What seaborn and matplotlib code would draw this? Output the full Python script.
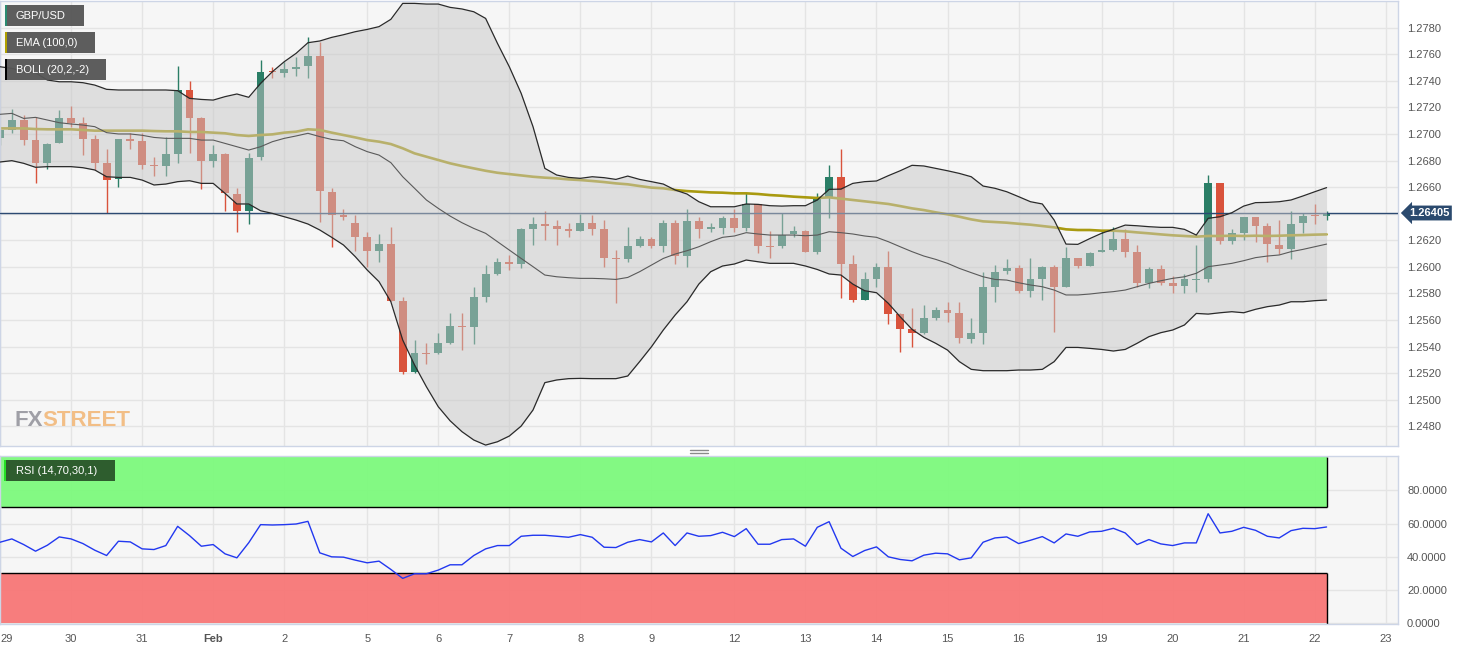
import numpy as np
import matplotlib
matplotlib.use("Agg")
import matplotlib.pyplot as plt
import matplotlib.transforms as mtrans
from matplotlib.patches import Rectangle
from matplotlib.lines import Line2D
import seaborn as sns

# ---------------- data (4-hour GBP/USD candles, Jan 29 -> Feb 22) ----------------
day_idx = [0, 6, 12, 18, 24, 31, 37, 43, 49, 55, 62, 68, 74, 80, 86, 93, 99, 105, 111, 117]
day_labels = ['29', '30', '31', 'Feb', '2', '5', '6', '7', '8', '9', '12', '13', '14',
              '15', '16', '19', '20', '21', '22', '23']

open_ = [1.26970, 1.27030, 1.27105, 1.26954, 1.26784, 1.26934, 1.27120, 1.27080, 1.26960, 1.26780,
         1.26658, 1.26965, 1.26947, 1.26770, 1.26756, 1.26849, 1.27330, 1.27120, 1.26800, 1.26850,
         1.26545, 1.26422, 1.26824, 1.27475, 1.27460, 1.27486, 1.27510, 1.27590, 1.26565, 1.26390,
         1.26327, 1.26222, 1.26121, 1.26171, 1.25745, 1.25210, 1.25352, 1.25348, 1.25424, 1.25555,
         1.25550, 1.25775, 1.25946, 1.26038, 1.26021, 1.26285, 1.26322, 1.26310, 1.26284, 1.26270,
         1.26327, 1.26282, 1.26063, 1.26055, 1.26156, 1.26206, 1.26156, 1.26327, 1.26084, 1.26345,
         1.26284, 1.26290, 1.26365, 1.26290, 1.26470, 1.26160, 1.26156, 1.26244, 1.26270, 1.26114,
         1.26528, 1.26678, 1.26018, 1.25750, 1.25905, 1.26000, 1.25644, 1.25529, 1.25500, 1.25612,
         1.25678, 1.25649, 1.25459, 1.25504, 1.25845, 1.25970, 1.25988, 1.25820, 1.25905, 1.25996,
         1.25850, 1.26063, 1.26008, 1.26110, 1.26126, 1.26206, 1.26114, 1.25880, 1.25980, 1.25875,
         1.25855, 1.25900, 1.25905, 1.26628, 1.26196, 1.26257, 1.26372, 1.26307, 1.26162, 1.26131,
         1.26327, 1.26388, 1.26380]

high = [1.27050, 1.27190, 1.27140, 1.27130, 1.26930, 1.27180, 1.27210, 1.27125, 1.26990, 1.26884,
        1.26960, 1.27005, 1.27005, 1.26830, 1.26974, 1.27510, 1.27400, 1.27130, 1.26914, 1.26860,
        1.26590, 1.26860, 1.27560, 1.27506, 1.27540, 1.27577, 1.27727, 1.27695, 1.26590, 1.26432,
        1.26390, 1.26264, 1.26244, 1.26297, 1.25770, 1.25449, 1.25424, 1.25500, 1.25654, 1.25650,
        1.25845, 1.26013, 1.26063, 1.26089, 1.26290, 1.26377, 1.26422, 1.26352, 1.26332, 1.26395,
        1.26390, 1.26352, 1.26126, 1.26297, 1.26230, 1.26226, 1.26352, 1.26352, 1.26432, 1.26377,
        1.26332, 1.26382, 1.26432, 1.26553, 1.26475, 1.26272, 1.26407, 1.26310, 1.26280, 1.26558,
        1.26766, 1.26884, 1.26086, 1.25963, 1.26026, 1.26121, 1.25650, 1.25687, 1.25712, 1.25695,
        1.25737, 1.25737, 1.25612, 1.25963, 1.26013, 1.26056, 1.26013, 1.26070, 1.26006, 1.26013,
        1.26151, 1.26070, 1.26114, 1.26277, 1.26302, 1.26282, 1.26164, 1.26000, 1.26013, 1.25930,
        1.25946, 1.26164, 1.26690, 1.26628, 1.26282, 1.26377, 1.26377, 1.26332, 1.26352, 1.26422,
        1.26407, 1.26473, 1.26422]

low = [1.26920, 1.27005, 1.26917, 1.26628, 1.26733, 1.26930, 1.27055, 1.26840, 1.26730, 1.26402,
       1.26600, 1.26890, 1.26733, 1.26680, 1.26680, 1.26784, 1.26854, 1.26583, 1.26750, 1.26422,
       1.26260, 1.26320, 1.26804, 1.27420, 1.27426, 1.27436, 1.27419, 1.26340, 1.26146, 1.26352,
       1.26121, 1.25996, 1.26038, 1.25740, 1.25190, 1.25198, 1.25268, 1.25343, 1.25420, 1.25373,
       1.25419, 1.25737, 1.25940, 1.25976, 1.25988, 1.26164, 1.26200, 1.26166, 1.26227, 1.26267,
       1.26240, 1.26000, 1.25725, 1.26038, 1.26146, 1.26140, 1.26114, 1.26020, 1.25996, 1.26214,
       1.26260, 1.26250, 1.26264, 1.26272, 1.26106, 1.26063, 1.26140, 1.26227, 1.26110, 1.26096,
       1.26365, 1.25762, 1.25732, 1.25750, 1.25850, 1.25569, 1.25360, 1.25398, 1.25496, 1.25600,
       1.25587, 1.25429, 1.25424, 1.25419, 1.25737, 1.25946, 1.25800, 1.25775, 1.25750, 1.25511,
       1.25845, 1.25988, 1.26006, 1.26110, 1.26120, 1.26076, 1.25845, 1.25838, 1.25863, 1.25805,
       1.25800, 1.25813, 1.25888, 1.26171, 1.26171, 1.26200, 1.26184, 1.26038, 1.26096, 1.26056,
       1.26252, 1.26322, 1.26352]

close = [1.27030, 1.27105, 1.26954, 1.26784, 1.26924, 1.27120, 1.27080, 1.26960, 1.26784, 1.26653,
         1.26960, 1.26950, 1.26770, 1.26760, 1.26846, 1.27330, 1.27120, 1.26800, 1.26850, 1.26553,
         1.26422, 1.26820, 1.27470, 1.27468, 1.27486, 1.27506, 1.27590, 1.26570, 1.26390, 1.26372,
         1.26222, 1.26121, 1.26171, 1.25745, 1.25210, 1.25348, 1.25343, 1.25424, 1.25554, 1.25550,
         1.25770, 1.25946, 1.26038, 1.26020, 1.26282, 1.26320, 1.26307, 1.26284, 1.26270, 1.26327,
         1.26282, 1.26063, 1.26055, 1.26156, 1.26206, 1.26156, 1.26327, 1.26084, 1.26345, 1.26284,
         1.26300, 1.26365, 1.26290, 1.26470, 1.26156, 1.26150, 1.26240, 1.26267, 1.26114, 1.26528,
         1.26678, 1.26018, 1.25750, 1.25905, 1.26000, 1.25644, 1.25529, 1.25500, 1.25612, 1.25675,
         1.25649, 1.25461, 1.25504, 1.25845, 1.25963, 1.25988, 1.25820, 1.25905, 1.25996, 1.25850,
         1.26063, 1.26008, 1.26106, 1.26126, 1.26206, 1.26114, 1.25880, 1.25980, 1.25880, 1.25855,
         1.25905, 1.25910, 1.26628, 1.26196, 1.26252, 1.26372, 1.26307, 1.26169, 1.26131, 1.26322,
         1.26385, 1.26383, 1.26405]

bb_upper = [1.27506, 1.27494, 1.27469, 1.27461, 1.27406, 1.27393, 1.27393, 1.27386, 1.27368, 1.27336,
            1.27331, 1.27331, 1.27331, 1.27331, 1.27331, 1.27326, 1.27268, 1.27260, 1.27255, 1.27281,
            1.27301, 1.27276, 1.27381, 1.27469, 1.27544, 1.27607, 1.27687, 1.27700, 1.27727, 1.27747,
            1.27770, 1.27787, 1.27808, 1.27863, 1.27983, 1.27983, 1.27978, 1.27978, 1.27953, 1.27941,
            1.27920, 1.27870, 1.27682, 1.27506, 1.27306, 1.27055, 1.26741, 1.26691, 1.26673, 1.26666,
            1.26678, 1.26671, 1.26658, 1.26683, 1.26658, 1.26641, 1.26623, 1.26578, 1.26548, 1.26490,
            1.26452, 1.26452, 1.26452, 1.26473, 1.26470, 1.26460, 1.26457, 1.26460, 1.26460, 1.26503,
            1.26583, 1.26585, 1.26628, 1.26641, 1.26646, 1.26686, 1.26723, 1.26764, 1.26759, 1.26741,
            1.26723, 1.26703, 1.26678, 1.26608, 1.26591, 1.26565, 1.26528, 1.26490, 1.26473, 1.26352,
            1.26171, 1.26169, 1.26212, 1.26252, 1.26282, 1.26314, 1.26309, 1.26302, 1.26297, 1.26297,
            1.26282, 1.26239, 1.26365, 1.26377, 1.26407, 1.26457, 1.26483, 1.26485, 1.26490, 1.26503,
            1.26533, 1.26565, 1.26596]

bb_lower = [1.26789, 1.26799, 1.26779, 1.26749, 1.26754, 1.26754, 1.26754, 1.26746, 1.26729, 1.26678,
            1.26673, 1.26673, 1.26653, 1.26616, 1.26623, 1.26641, 1.26648, 1.26628, 1.26628, 1.26553,
            1.26473, 1.26473, 1.26422, 1.26402, 1.26377, 1.26352, 1.26322, 1.26277, 1.26222, 1.26164,
            1.26076, 1.25976, 1.25888, 1.25737, 1.25449, 1.25261, 1.25097, 1.24947, 1.24841, 1.24759,
            1.24696, 1.24658, 1.24683, 1.24726, 1.24801, 1.24922, 1.25128, 1.25148, 1.25158, 1.25160,
            1.25158, 1.25158, 1.25158, 1.25178, 1.25286, 1.25398, 1.25524, 1.25637, 1.25737, 1.25870,
            1.25963, 1.26006, 1.26021, 1.26051, 1.26038, 1.26026, 1.26026, 1.26026, 1.26006, 1.25980,
            1.25946, 1.25938, 1.25870, 1.25820, 1.25805, 1.25725, 1.25624, 1.25529, 1.25469, 1.25424,
            1.25373, 1.25286, 1.25228, 1.25218, 1.25218, 1.25218, 1.25223, 1.25223, 1.25228, 1.25286,
            1.25393, 1.25393, 1.25386, 1.25378, 1.25366, 1.25378, 1.25424, 1.25474, 1.25504, 1.25524,
            1.25562, 1.25649, 1.25644, 1.25654, 1.25662, 1.25654, 1.25680, 1.25700, 1.25712, 1.25737,
            1.25737, 1.25745, 1.25750]

bb_mid = [1.27148, 1.27155, 1.27117, 1.27125, 1.27105, 1.27085, 1.27075, 1.27067, 1.27055, 1.27010,
          1.27000, 1.27000, 1.26990, 1.26974, 1.26967, 1.26967, 1.26967, 1.26954, 1.26954, 1.26929,
          1.26904, 1.26879, 1.26904, 1.26942, 1.26967, 1.26985, 1.27005, 1.26980, 1.26959, 1.26949,
          1.26904, 1.26867, 1.26841, 1.26784, 1.26678, 1.26591, 1.26503, 1.26440, 1.26382, 1.26332,
          1.26289, 1.26252, 1.26189, 1.26126, 1.26063, 1.26001, 1.25938, 1.25925, 1.25918, 1.25913,
          1.25913, 1.25910, 1.25905, 1.25920, 1.25963, 1.26013, 1.26063, 1.26096, 1.26121, 1.26151,
          1.26189, 1.26222, 1.26232, 1.26257, 1.26247, 1.26239, 1.26239, 1.26239, 1.26234, 1.26239,
          1.26264, 1.26257, 1.26247, 1.26232, 1.26222, 1.26189, 1.26151, 1.26114, 1.26081, 1.26056,
          1.26026, 1.25988, 1.25956, 1.25925, 1.25905, 1.25900, 1.25880, 1.25863, 1.25850, 1.25825,
          1.25788, 1.25788, 1.25795, 1.25805, 1.25813, 1.25825, 1.25850, 1.25875, 1.25895, 1.25913,
          1.25925, 1.25951, 1.26001, 1.26013, 1.26026, 1.26046, 1.26069, 1.26081, 1.26089, 1.26114,
          1.26131, 1.26151, 1.26171]

ema100 = [1.27042, 1.27042, 1.27042, 1.27037, 1.27035, 1.27035, 1.27035, 1.27030, 1.27025, 1.27025,
          1.27025, 1.27025, 1.27025, 1.27022, 1.27020, 1.27020, 1.27015, 1.27015, 1.27010, 1.27005,
          1.26992, 1.26985, 1.26992, 1.26997, 1.27010, 1.27017, 1.27035, 1.27030, 1.27010, 1.26992,
          1.26974, 1.26954, 1.26942, 1.26924, 1.26892, 1.26854, 1.26829, 1.26804, 1.26779, 1.26759,
          1.26741, 1.26723, 1.26708, 1.26698, 1.26688, 1.26678, 1.26671, 1.26666, 1.26658, 1.26653,
          1.26646, 1.26638, 1.26628, 1.26621, 1.26608, 1.26596, 1.26591, 1.26578, 1.26570, 1.26565,
          1.26560, 1.26558, 1.26553, 1.26553, 1.26548, 1.26540, 1.26535, 1.26528, 1.26523, 1.26518,
          1.26523, 1.26513, 1.26503, 1.26493, 1.26483, 1.26473, 1.26457, 1.26440, 1.26427, 1.26410,
          1.26395, 1.26377, 1.26357, 1.26342, 1.26337, 1.26332, 1.26324, 1.26317, 1.26307, 1.26297,
          1.26282, 1.26277, 1.26277, 1.26272, 1.26272, 1.26267, 1.26259, 1.26252, 1.26244, 1.26237,
          1.26232, 1.26227, 1.26232, 1.26232, 1.26234, 1.26232, 1.26234, 1.26232, 1.26234, 1.26237,
          1.26239, 1.26242, 1.26244]

rsi = [48.8, 50.8, 47.4, 43.4, 47.0, 52.0, 50.8, 48.0, 44.0, 40.8,
       49.4, 49.0, 44.8, 44.4, 46.8, 58.4, 52.8, 46.4, 47.4, 41.8,
       39.4, 48.5, 59.4, 59.2, 59.4, 59.8, 61.4, 42.4, 40.0, 39.8,
       38.0, 36.4, 37.4, 32.4, 27.0, 29.8, 29.8, 32.0, 35.2, 35.2,
       40.8, 44.8, 46.8, 46.8, 52.4, 53.0, 53.0, 52.4, 51.8, 53.4,
       51.8, 45.8, 45.6, 48.8, 50.4, 49.0, 54.4, 46.8, 54.4, 52.4,
       52.8, 54.8, 52.2, 57.0, 47.6, 47.6, 50.4, 50.8, 46.4, 57.8,
       61.2, 45.2, 40.2, 43.8, 46.0, 40.0, 38.4, 37.6, 41.0, 42.2,
       41.8, 38.2, 39.4, 48.8, 51.4, 52.0, 48.0, 50.0, 52.2, 48.4,
       53.8, 52.4, 55.0, 55.4, 57.2, 54.4, 47.4, 50.4, 47.8, 46.8,
       48.4, 48.4, 66.0, 54.4, 55.4, 57.8, 56.0, 52.4, 51.4, 55.8,
       57.2, 57.0, 58.0]

last_price = 1.26405
price_ticks = [1.2480, 1.2500, 1.2520, 1.2540, 1.2560, 1.2580, 1.2600, 1.2620, 1.2640,
               1.2660, 1.2680, 1.2700, 1.2720, 1.2740, 1.2760, 1.2780]
rsi_ticks = [0, 20, 40, 60, 80]
rsi_upper_level, rsi_lower_level = 70, 30

# ---------------- styling ----------------
sns.set_style("white")
plt.rcParams['font.family'] = ['Liberation Sans', 'DejaVu Sans']

W, H = 1469, 651
GREEN = '#2a7e66'
RED = '#d9533c'
BG = '#f6f6f6'
GRID = '#e4e4e4'
SPINE = '#cdd5e6'
TXT = '#555555'

fig = plt.figure(figsize=(W / 100, H / 100), dpi=100, facecolor='white')
ax = fig.add_axes([0, 1 - 446 / H, 1398 / W, 445 / H])
axr = fig.add_axes([0, 1 - 624 / H, 1398 / W, 168 / H])

n = len(close)
x = np.arange(n)
o = np.array(open_); c = np.array(close); hi = np.array(high); lo = np.array(low)
up = c >= o
cols = np.where(up, GREEN, RED)

XL = (0.06, 118.03)

# ---------------- main price panel ----------------
ax.set_facecolor(BG)
ax.vlines(x, lo, hi, colors=cols, lw=1.0, zorder=2)
body_h = np.maximum(np.abs(c - o), 0.00008)
body_b = np.where(np.abs(c - o) < 0.00008, (o + c) / 2 - 0.00004, np.minimum(o, c))
ax.bar(x, body_h, bottom=body_b, width=0.66, color=cols, lw=0, zorder=2.1)

sns.lineplot(x=x, y=ema100, ax=ax, color='#a99a10', lw=1.9, zorder=2.5)
ax.axhline(last_price, color='#2c4a72', lw=1.0, zorder=2.6)
ax.fill_between(x, bb_lower, bb_upper, color=(0.78, 0.78, 0.78), alpha=0.5, lw=0, zorder=3)
sns.lineplot(x=x, y=bb_upper, ax=ax, color='#2a2a2a', lw=0.9, zorder=4)
sns.lineplot(x=x, y=bb_lower, ax=ax, color='#2a2a2a', lw=0.9, zorder=4)
sns.lineplot(x=x, y=bb_mid, ax=ax, color='#5a5a5a', lw=0.8, zorder=4)

ax.set_xlim(*XL)
ax.set_ylim(1.24651, 1.28001)
ax.set_xticks(day_idx)
ax.tick_params(axis='x', length=0, labelbottom=False)
ax.yaxis.tick_right()
ax.set_yticks(price_ticks)
ax.set_yticklabels(['' if abs(t - 1.2640) < 1e-6 else f'{t:.4f}' for t in price_ticks])
ax.tick_params(axis='y', length=0, pad=6.5, labelsize=8, labelcolor=TXT)
ax.grid(True, color=GRID, lw=1)
ax.set_axisbelow(True)
ax.set_xlabel(''); ax.set_ylabel('')
for s in ax.spines.values():
    s.set_color(SPINE); s.set_linewidth(1)

trans = mtrans.blended_transform_factory(ax.transAxes, ax.transData)
ax.text(1.0 + 11 / 1398, last_price, f'{last_price:.5f}', transform=trans, ha='left', va='center',
        color='white', fontsize=8, fontweight='bold', zorder=10,
        bbox=dict(boxstyle='larrow,pad=0.22', fc='#2b4a6e', ec='none'))

# ---------------- RSI panel ----------------
axr.set_facecolor(BG)
axr.fill_between([XL[0], x[-1]], rsi_upper_level, 100, color='#7dfa7d', lw=0, zorder=1.5, alpha=0.95)
axr.fill_between([XL[0], x[-1]], 0, rsi_lower_level, color='#f87777', lw=0, zorder=1.5, alpha=0.95)
axr.hlines([rsi_upper_level, rsi_lower_level], XL[0], x[-1], colors='black', lw=1, zorder=2)
axr.vlines(x[-1], rsi_upper_level, 100, colors='black', lw=1, zorder=2)
axr.vlines(x[-1], -0.5, rsi_lower_level, colors='black', lw=1, zorder=2)
sns.lineplot(x=x, y=rsi, ax=axr, color='#2238f0', lw=1.0, zorder=3)
axr.set_xlim(*XL)
axr.set_ylim(-0.5, 100.8)
axr.set_yticks(rsi_ticks)
axr.set_yticklabels([f'{v:.4f}' for v in rsi_ticks])
axr.yaxis.tick_right()
axr.tick_params(axis='y', length=0, pad=6.5, labelsize=8, labelcolor=TXT)
axr.set_xticks(day_idx)
axr.set_xticklabels(day_labels)
axr.tick_params(axis='x', length=0, pad=7, labelsize=8, labelcolor=TXT)
xl = axr.get_xticklabels()
xl[0].set_ha('left')
xl[3].set_fontweight('bold')
axr.grid(True, color=GRID, lw=1)
axr.set_axisbelow(True)
axr.set_xlabel(''); axr.set_ylabel('')
for s in axr.spines.values():
    s.set_color(SPINE); s.set_linewidth(1)


# ---------------- overlays: legend tags, watermark, handle ----------------
def px_rect(x0, y0, w, h, color, alpha=1.0):
    fig.add_artist(Rectangle((x0 / W, 1 - (y0 + h) / H), w / W, h / H, transform=fig.transFigure,
                             fc=color, ec='none', alpha=alpha, zorder=5))


def px_text(x0, y0, s, **kw):
    return fig.text(x0 / W, 1 - y0 / H, s, zorder=6, **kw)


tags = [(5, 'GBP/USD', 79, '#2a8a70'), (32, 'EMA (100,0)', 90, '#b0a000'), (59, 'BOLL (20,2,-2)', 101, '#000000')]
for y0, label, w, strip in tags:
    px_rect(5, y0, w, 21, '#555555', 0.95)
    px_rect(5, y0, 2, 21, strip)
    px_text(16, y0 + 11, label, color='white', fontsize=8, va='center', ha='left')

px_rect(4, 460, 111, 21, '#2e5d2e')
px_rect(4, 460, 2, 21, '#27e027')
px_text(16, 471, 'RSI (14,70,30,1)', color='white', fontsize=8, va='center', ha='left')

# watermark: "FX" grey + "STREET" orange, placed right after "FX"
fx = px_text(15, 426, 'FX', color='#9a9aa2', fontsize=16, fontweight='bold',
             family=['Liberation Sans', 'DejaVu Sans'], va='baseline', alpha=0.95)
fig.add_artist(matplotlib.text.Annotation('STREET', xy=(1.0, 0.0), xycoords=fx, xytext=(-1.0, 0),
                                          textcoords='offset points', va='bottom', ha='left',
                                          color='#f2be86', fontsize=16, fontweight='bold',
                                          family=['Liberation Sans', 'DejaVu Sans'], zorder=6))

for yy in (449.5, 452.5):
    fig.add_artist(Line2D([690 / W, 708 / W], [1 - yy / H, 1 - yy / H], transform=fig.transFigure,
                          color='#8a8a8a', lw=1))

fig.savefig('out.png', dpi=100, facecolor='white')
